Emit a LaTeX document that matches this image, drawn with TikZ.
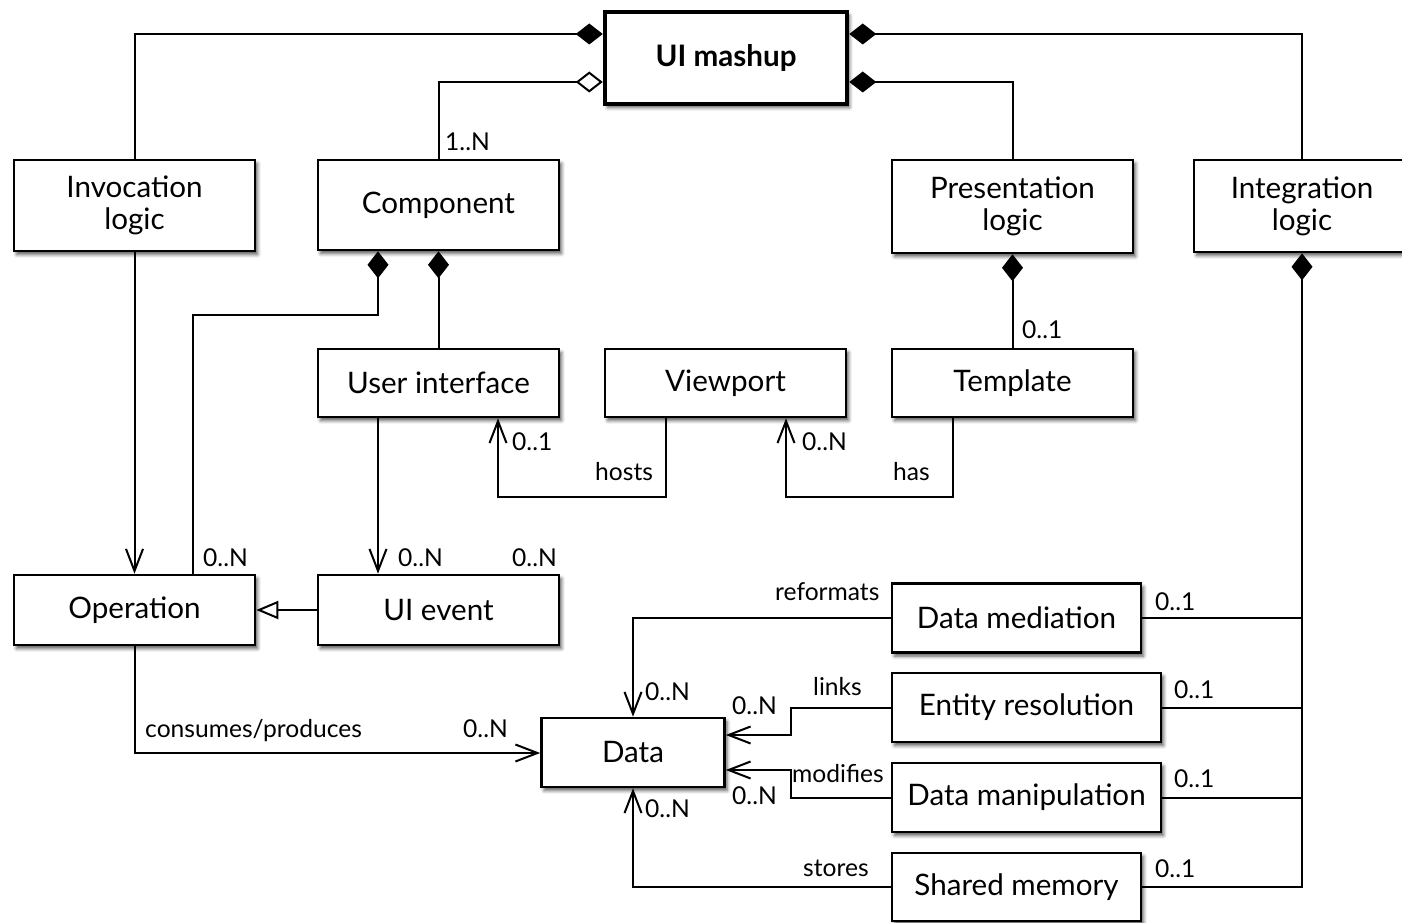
\documentclass[tikz,border=0pt]{standalone}
\usepackage{fontspec}
\setmainfont{Lato}
\usetikzlibrary{arrows.meta,shadows.blur}

\newcommand{\boxfont}{\fontsize{29.6}{32}\selectfont}
\newcommand{\lblfont}{\fontsize{24.6}{26}\selectfont}

\tikzset{
  box/.style={draw, line width=2.6pt, fill=white, align=center, inner sep=0pt,
    font=\boxfont,
    blur shadow={shadow xshift=2.5pt, shadow yshift=-3.5pt, shadow blur radius=3.5pt, shadow opacity=65}},
  con/.style={line width=2pt},
  openarr/.style={con, -{Straight Barb[length=22pt,width=17pt]}},
  filldia/.style={con, -{Diamond[length=27pt,width=21pt]}},
  opendia/.style={con, -{Diamond[open,fill=white,length=27pt,width=21pt]}},
  gen/.style={con, -{Triangle[open,fill=white,length=22pt,width=18pt]}},
  lbl/.style={font=\lblfont, anchor=base west, inner sep=0pt},
}

\begin{document}
\begin{tikzpicture}[x=1pt,y=-1pt]
\useasboundingbox (0,0) rectangle (1402,923);

% classes
\node[box, line width=4.5pt, minimum width=242pt, minimum height=92pt, font=\boxfont\bfseries] (mashup) at (726,58) {UI mashup};
\node[box, minimum width=241pt, minimum height=91pt] (inv)   at (134.5,205.5) {Invocation\\logic};
\node[box, minimum width=241pt, minimum height=90pt] (comp)  at (438.5,205)   {Component};
\node[box, minimum width=241pt, minimum height=93pt] (pres)  at (1012.5,206.5) {Presentation\\logic};
\node[box, minimum width=216pt, minimum height=92pt] (integ) at (1302,206)    {Integration\\logic};
\node[box, minimum width=241pt, minimum height=68pt] (ui)    at (438.5,383)   {User interface};
\node[box, minimum width=241pt, minimum height=68pt] (view)  at (725.5,383)   {Viewport};
\node[box, minimum width=241pt, minimum height=68pt] (tmpl)  at (1012.5,383)  {Template};
\node[box, minimum width=241pt, minimum height=70pt] (op)    at (134.5,610)   {Operation};
\node[box, minimum width=241pt, minimum height=70pt] (ev)    at (438.5,610)   {UI event};
\node[box, minimum width=183pt, minimum height=69pt] (data)  at (633,752.5)   {Data};
\node[box, minimum width=249pt, minimum height=69pt] (dmed)  at (1016.5,618)  {Data mediation};
\node[box, minimum width=269pt, minimum height=69pt] (ent)   at (1026.5,707.5) {Entity resolution};
\node[box, minimum width=269pt, minimum height=69pt] (dman)  at (1026.5,797.5) {Data manipulation};
\node[box, minimum width=249pt, minimum height=68pt] (shm)   at (1016.5,887)  {Shared memory};

% aggregation / composition into the mashup
\draw[filldia] (inv.north) |- (mashup.west |- 0,34);
\draw[opendia] (comp.north) |- (mashup.west |- 0,82);
\draw[filldia] (pres.north) |- (mashup.east |- 0,82);
\draw[filldia] (integ.north) |- (mashup.east |- 0,34);

% component parts
\draw[filldia] (op.north -| 193,0) |- (378,315) -- (comp.south -| 378,0);
\draw[filldia] (ui.north) -- (comp.south);
\draw[filldia] (tmpl.north) -- (pres.south);

% associations
\draw[openarr] (inv.south) -- (op.north);
\draw[openarr] (ui.south -| 378,0) -- (ev.north -| 378,0);
\draw[gen] (ev.west) -- (op.east);
\draw[openarr] (view.south -| 666,0) |- (498,497) -- (ui.south -| 498,0);
\draw[openarr] (tmpl.south -| 953,0) |- (786,497) -- (view.south -| 786,0);
\draw[openarr] (op.south) |- (data.west |- 0,753);
\draw[openarr] (dmed.west) -| (data.north);
\draw[openarr] (ent.west) -| (791,735) -- (data.east |- 0,735);
\draw[openarr] (dman.west) -| (791,770) -- (data.east |- 0,770);
\draw[openarr] (shm.west) -| (data.south);

% integration logic bus
\draw[filldia] (shm.east) -| (integ.south);
\draw[con] (dmed.east) -- (dmed.east -| integ.south);
\draw[con] (ent.east) -- (ent.east -| integ.south);
\draw[con] (dman.east) -- (dman.east -| integ.south);

% multiplicities and roles
\node[lbl] (m1) at (445,150) {1..N};
\node[lbl] (m2) at (203,566) {0..N};
\node[lbl] (m3) at (398,566) {0..N};
\node[lbl] (m4) at (512,566) {0..N};
\node[lbl] (m5) at (512,450) {0..1};
\node[lbl] (r1) at (595,480) {hosts};
\node[lbl] (m6) at (802,450) {0..N};
\node[lbl] (r2) at (893,480) {has};
\node[lbl] (m7) at (1022,338) {0..1};
\node[lbl] (r3) at (145,737) {consumes/produces};
\node[lbl] (m8) at (463,737) {0..N};
\node[lbl] (r4) at (775,600) {reformats};
\node[lbl] (m9) at (645,700) {0..N};
\node[lbl] (r5) at (813,695) {links};
\node[lbl] (m10) at (732,714) {0..N};
\node[lbl] (r6) at (792,782) {modifies};
\node[lbl] (m11) at (732,804) {0..N};
\node[lbl] (m12) at (645,817) {0..N};
\node[lbl] (r7) at (803,876) {stores};
\node[lbl] (m13) at (1155,610) {0..1};
\node[lbl] (m14) at (1174,698) {0..1};
\node[lbl] (m15) at (1174,787) {0..1};
\node[lbl] (m16) at (1155,877) {0..1};
\end{tikzpicture}
\end{document}
